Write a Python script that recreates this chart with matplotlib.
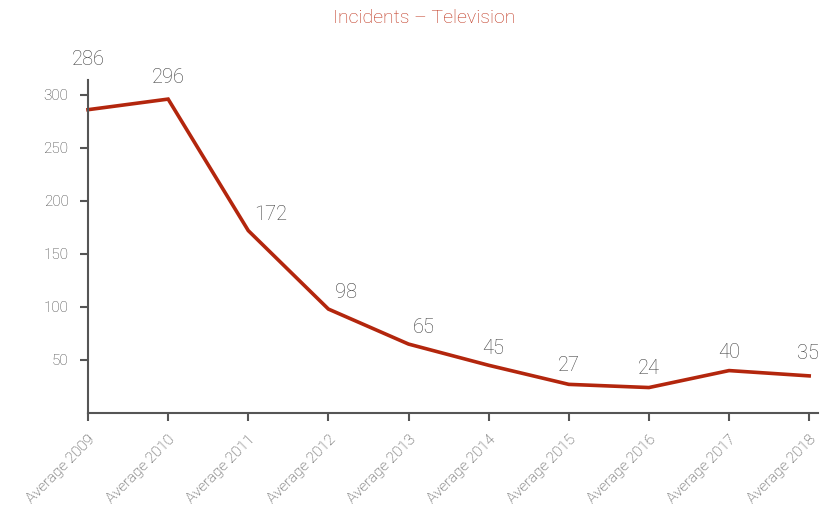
import matplotlib
matplotlib.use("Agg")
import matplotlib.pyplot as plt

categories = ["Average 2009", "Average 2010", "Average 2011", "Average 2012", "Average 2013",
              "Average 2014", "Average 2015", "Average 2016", "Average 2017", "Average 2018"]
values = [286, 296, 172, 98, 65, 45, 27, 24, 40, 35]
yticks = [50, 100, 150, 200, 250, 300]
# label offsets in points (dx, dy) relative to each point
label_offsets = [(0, 29), (0, 9), (16, 5), (13, 5), (11, 5), (3, 5), (0, 7), (0, 7), (0, 6), (-1, 9)]

plt.rcParams['font.family'] = ['Roboto', 'DejaVu Sans']

grey = "#555555"
text_grey = "#3f3f3f"
red = "#B3260D"

fig = plt.figure(figsize=(8.36, 5.16), dpi=100)
ax = fig.add_axes([88/836, 1 - 413/516, (818 - 88)/836, (413 - 80)/516])

x = list(range(len(categories)))
ax.plot(x, values, color=red, lw=2.6, solid_joinstyle="miter", clip_on=False)

for xi, v, (dx, dy) in zip(x, values, label_offsets):
    ax.annotate(str(v), (xi, v), xytext=(dx, dy), textcoords="offset points",
                ha="center", va="bottom", fontsize=14.5, color=text_grey, fontweight="light")

ax.set_xlim(0, 9.11)
ax.set_ylim(0, 314)
ax.set_yticks(yticks)
ax.set_yticklabels([str(t) for t in yticks], fontweight="light")
ax.set_xticks(x)
ax.set_xticklabels(categories, rotation=45, ha="right", va="top", rotation_mode="anchor",
                   fontweight="light")

for s in ["top", "right"]:
    ax.spines[s].set_visible(False)
for s in ["left", "bottom"]:
    ax.spines[s].set_color(grey)
    ax.spines[s].set_linewidth(1.5)

ax.tick_params(axis="both", colors=grey, labelcolor=text_grey, length=6, width=1.5, labelsize=11)
ax.tick_params(axis="y", pad=8)
ax.tick_params(axis="x", pad=8)

fig.text(424/836, 1 - 18/516, "Incidents – Television", ha="center", va="center",
         fontsize=14, color="#BE3119", fontweight="light")

fig.savefig("out.png", dpi=100)
